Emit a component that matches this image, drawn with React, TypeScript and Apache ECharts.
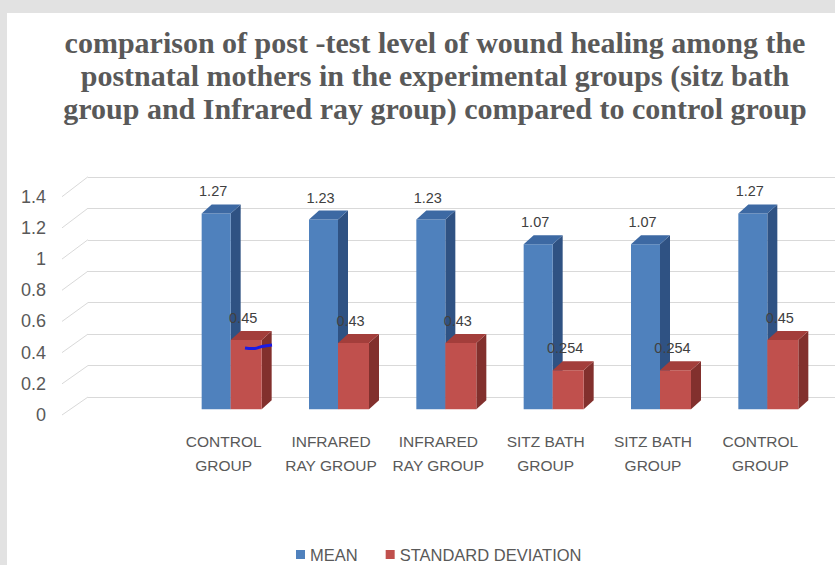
import React, { useEffect, useRef } from "react";
import * as echarts from "echarts";

const TITLE =
  "comparison of post -test level of wound healing among the\npostnatal mothers in the experimental groups (sitz bath\ngroup and Infrared ray group) compared to control group";
const categories = [
  "CONTROL\nGROUP",
  "INFRARED\nRAY GROUP",
  "INFRARED\nRAY GROUP",
  "SITZ BATH\nGROUP",
  "SITZ BATH\nGROUP",
  "CONTROL\nGROUP",
];
const meanValues = [1.27, 1.23, 1.23, 1.07, 1.07, 1.27];
const sdValues = [0.45, 0.43, 0.43, 0.254, 0.254, 0.45];
const yTicks = [0, 0.2, 0.4, 0.6, 0.8, 1, 1.2, 1.4];

const FONT = "'Liberation Sans', Arial, sans-serif";
const TXT = "#595959";

type Cols = { front: string; side: string; top: string };
const BLUE: Cols = { front: "#4f81bd", side: "#2f5283", top: "#3d69a3" };
const RED: Cols = { front: "#c0504d", side: "#82302d", top: "#a33e3b" };

function makeBar(side: number, cols: Cols, bw: number) {
  return (params: any, api: any) => {
    const idx = api.value(0);
    const val = api.value(1);
    const top = api.coord([idx, val]);
    const base = api.coord([idx, 0]);
    const dx = 10;
    const dy = 9;
    const x0 = side < 0 ? top[0] - bw : top[0];
    const x1 = x0 + bw;
    const yT = top[1];
    const yB = base[1];
    return {
      type: "group",
      children: [
        {
          type: "polygon",
          shape: { points: [[x1, yT], [x1 + dx, yT - dy], [x1 + dx, yB - dy], [x1, yB]] },
          style: { fill: cols.side },
        },
        {
          type: "rect",
          shape: { x: x0, y: yT, width: bw, height: yB - yT },
          style: { fill: cols.front },
        },
        {
          type: "polygon",
          shape: { points: [[x0, yT], [x1, yT], [x1 + dx, yT - dy], [x0 + dx, yT - dy]] },
          style: { fill: cols.top },
        },
        {
          type: "text",
          style: {
            text: String(val),
            x: x0 + bw / 2 - 3,
            y: yT - 22,
            fill: "#404040",
            fontSize: 14.5,
            fontFamily: FONT,
            align: "center",
            verticalAlign: "middle",
          },
        },
      ],
    };
  };
}

export default function App() {
  const ref = useRef<HTMLDivElement>(null);
  useEffect(() => {
    if (!ref.current) return;
    const chart = echarts.init(ref.current, undefined, { renderer: "svg" });
    chart.setOption({
      animation: false,
      title: {
        text: TITLE,
        left: 435,
        top: 26,
        padding: 0,
        textAlign: "center",
        textStyle: {
          fontFamily: "'Liberation Serif', 'Times New Roman', serif",
          fontWeight: "bold",
          fontSize: 30,
          lineHeight: 33,
          color: TXT,
        },
      },
      legend: {
        left: 291,
        top: 541,
        icon: "rect",
        itemWidth: 9,
        itemHeight: 9,
        itemGap: 28,
        data: ["MEAN", "STANDARD DEVIATION"],
        textStyle: { fontFamily: FONT, fontSize: 16.5, color: TXT },
      },
      grid: [
        { left: 177, right: 14, top: 193.4, bottom: 155.7 },
        { left: 62, right: 0, top: 196.7, bottom: 150 },
        { left: 88, right: 0, top: 177, bottom: 168 },
      ],
      xAxis: [
        {
          type: "category",
          gridIndex: 0,
          data: categories,
          axisLine: { show: false },
          axisTick: { show: false },
          axisLabel: {
            fontFamily: FONT,
            fontSize: 15.5,
            lineHeight: 24,
            color: TXT,
            margin: 20,
            padding: [0, 14, 0, 0],
            interval: 0,
          },
        },
        { type: "value", gridIndex: 1, min: 0, max: 1, show: false },
        { type: "value", gridIndex: 2, min: 0, max: 1, show: false },
      ],
      yAxis: [
        { type: "value", gridIndex: 0, min: 0, max: 1.4, interval: 0.2, show: false },
        {
          type: "value",
          gridIndex: 1,
          min: 0,
          max: 1.4,
          interval: 0.2,
          axisLine: { show: false },
          axisTick: { show: false },
          splitLine: { show: false },
          axisLabel: { fontFamily: FONT, fontSize: 18, color: TXT, margin: 16 },
        },
        {
          type: "value",
          gridIndex: 2,
          min: 0,
          max: 1.4,
          interval: 0.2,
          axisLine: { show: false },
          axisTick: { show: false },
          axisLabel: { show: false },
          splitLine: { lineStyle: { color: "#d9d9d9", width: 1 } },
        },
      ],
      series: [
        {
          name: "floor",
          type: "custom",
          xAxisIndex: 1,
          yAxisIndex: 1,
          silent: true,
          data: yTicks.map((v) => [0, v]),
          renderItem: (params: any, api: any) => {
            const v = api.value(1);
            const p = api.coord([0, v]);
            return {
              type: "line",
              shape: { x1: p[0], y1: p[1], x2: p[0] + 26, y2: p[1] - (18 + 1.4 * v) },
              style: { stroke: "#d9d9d9", lineWidth: 1 },
            };
          },
        },
        {
          name: "MEAN",
          type: "custom",
          xAxisIndex: 0,
          yAxisIndex: 0,
          itemStyle: { color: BLUE.front },
          data: meanValues.map((v, i) => [i, v]),
          encode: { x: 0, y: 1 },
          renderItem: makeBar(-1, BLUE, 29),
        },
        {
          name: "STANDARD DEVIATION",
          type: "custom",
          xAxisIndex: 0,
          yAxisIndex: 0,
          itemStyle: { color: RED.front },
          data: sdValues.map((v, i) => [i, v]),
          encode: { x: 0, y: 1 },
          renderItem: makeBar(1, RED, 31),
        },
      ],
      graphic: [
        {
          type: "polyline",
          z: 100,
          shape: { points: [[245, 348], [255, 348.5], [262, 346.5], [272, 345]], smooth: 0.4 },
          style: { stroke: "#1a1ae6", lineWidth: 3, fill: null },
        },
      ],
    });
    return () => chart.dispose();
  }, []);
  return (
    <div style={{ position: "absolute", left: 0, top: 0, width: 835, height: 565, background: "#e2e2e2" }}>
      <div style={{ position: "absolute", left: 7, top: 13, right: 0, bottom: 0, background: "#ffffff" }} />
      <div ref={ref} style={{ position: "absolute", left: 0, top: 0, width: 835, height: 565 }} />
    </div>
  );
}
